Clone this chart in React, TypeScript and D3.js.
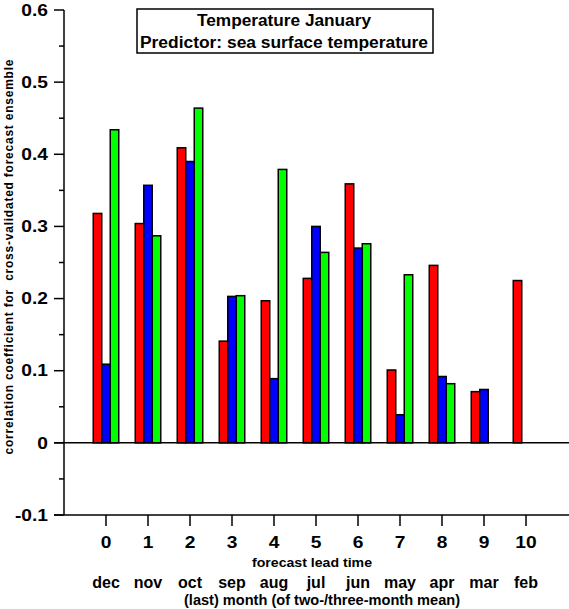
import React from "react";
import * as d3 from "d3";

const leads = [0, 1, 2, 3, 4, 5, 6, 7, 8, 9, 10];
const months = ["dec", "nov", "oct", "sep", "aug", "jul", "jun", "may", "apr", "mar", "feb"];
const redVals: (number | null)[] = [0.318, 0.304, 0.409, 0.141, 0.197, 0.228, 0.359, 0.101, 0.246, 0.071, 0.225];
const blueVals: (number | null)[] = [0.109, 0.357, 0.390, 0.203, 0.089, 0.300, 0.270, 0.039, 0.092, 0.074, null];
const greenVals: (number | null)[] = [0.434, 0.287, 0.464, 0.204, 0.379, 0.264, 0.276, 0.233, 0.082, null, null];
const yMajor = [-0.1, 0, 0.1, 0.2, 0.3, 0.4, 0.5, 0.6];
const yMinor = [-0.05, 0.05, 0.15, 0.25, 0.35, 0.45, 0.55];
const yTickLabels = ["-0.1", "0", "0.1", "0.2", "0.3", "0.4", "0.5", "0.6"];

const series = [
  { vals: redVals, color: "#ff0000" },
  { vals: blueVals, color: "#0000ff" },
  { vals: greenVals, color: "#00ff00" },
];

export default function App() {
  const W = 569, H = 609;
  const y = d3.scaleLinear().domain([-0.1, 0.6]).range([515, 10]);
  const x = d3.scaleLinear().domain([0, 10]).range([106, 526]);
  const bw = 8.5;
  const axisX = 64;
  const font = "'Liberation Sans', Arial, sans-serif";
  const sx = 1.2;

  return (
    <svg width={W} height={H} style={{ position: "absolute", left: 0, top: 0, background: "#fff" }} fontFamily={font}>
      {/* bars */}
      {series.map((s, si) =>
        s.vals.map((v, i) =>
          v == null ? null : (
            <rect
              key={`${si}-${i}`}
              x={x(leads[i]) - 1.5 * bw + si * bw}
              y={y(v)}
              width={bw}
              height={y(0) - y(v)}
              fill={s.color}
              stroke="#000"
              strokeWidth={1.5}
            />
          )
        )
      )}
      {/* axes */}
      <line x1={axisX} x2={axisX} y1={y(0.6)} y2={y(-0.1)} stroke="#000" strokeWidth={1.5} />
      <line x1={54} x2={W} y1={y(-0.1)} y2={y(-0.1)} stroke="#000" strokeWidth={1.5} />
      <line x1={54} x2={W} y1={y(0)} y2={y(0)} stroke="#000" strokeWidth={1.5} />
      {yMajor.map((t) => (
        <line key={`M${t}`} x1={54} x2={axisX} y1={y(t)} y2={y(t)} stroke="#000" strokeWidth={1.5} />
      ))}
      {yMinor.map((t) => (
        <line key={`m${t}`} x1={59} x2={axisX} y1={y(t)} y2={y(t)} stroke="#000" strokeWidth={1.5} />
      ))}
      {yMajor.map((t, i) => (
        <text
          key={`L${t}`}
          transform={`translate(48,${y(t)}) scale(${sx},1)`}
          dy="0.36em"
          textAnchor="end"
          fontSize={16}
          fontWeight="bold"
        >
          {yTickLabels[i]}
        </text>
      ))}
      {leads.map((l) => (
        <g key={`x${l}`}>
          <line x1={x(l)} x2={x(l)} y1={y(-0.1)} y2={y(-0.1) + 11} stroke="#000" strokeWidth={1.5} />
          <text transform={`translate(${x(l)},548) scale(${sx},1)`} textAnchor="middle" fontSize={16} fontWeight="bold">{l}</text>
        </g>
      ))}
      {months.map((m, i) => (
        <text key={m} x={x(leads[i])} y={588} textAnchor="middle" fontSize={16} fontWeight="bold">{m}</text>
      ))}
      <text x={312} y={567} textAnchor="middle" fontSize={13} fontWeight="bold" textLength={120} lengthAdjust="spacingAndGlyphs">forecast lead time</text>
      <text x={322} y={605} textAnchor="middle" fontSize={15} fontWeight="bold" textLength={276} lengthAdjust="spacingAndGlyphs">(last) month (of two-/three-month mean)</text>
      <text
        transform="translate(13,257) rotate(-90)"
        textAnchor="middle"
        fontSize={12}
        fontWeight="bold"
        textLength={395}
        lengthAdjust="spacing"
        style={{ whiteSpace: "pre" }}
      >
        correlation coefficient for  cross-validated forecast ensemble
      </text>
      {/* title box */}
      <rect x={137} y={9} width={296} height={44} fill="#fff" stroke="#000" strokeWidth={1.5} />
      <text x={284} y={26} textAnchor="middle" fontSize={16} fontWeight="bold" textLength={174} lengthAdjust="spacingAndGlyphs">Temperature January</text>
      <text x={284} y={48} textAnchor="middle" fontSize={16} fontWeight="bold" textLength={288} lengthAdjust="spacingAndGlyphs">Predictor: sea surface temperature</text>
    </svg>
  );
}
